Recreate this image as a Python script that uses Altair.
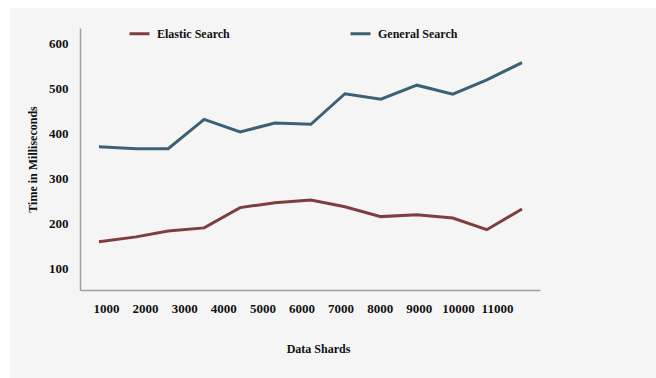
import altair as alt
import pandas as pd

shards = [820, 1770, 2590, 3510, 4430, 5320, 6240, 7110, 8030, 8950, 9870, 10740, 11640]
elastic = [160, 171, 184, 191, 236, 247, 253, 238, 216, 220, 213, 187, 233]
general = [371, 367, 367, 432, 404, 424, 421, 489, 477, 508, 488, 520, 558]
series_names = ["Elastic Search", "General Search"]
series_colors = ["#7e3e3e", "#3a6175"]
x_ticks = [1000, 2000, 3000, 4000, 5000, 6000, 7000, 8000, 9000, 10000, 11000]
y_ticks = [100, 200, 300, 400, 500, 600]

rows = []
for s, e, g in zip(shards, elastic, general):
    rows.append({"shards": s, "time": e, "series": series_names[0]})
    rows.append({"shards": s, "time": g, "series": series_names[1]})
df = pd.DataFrame(rows)

FONT = "Liberation Serif"

panel = alt.Chart(pd.DataFrame({"a": [0]})).mark_rect(color="#f5f5f5").encode(
    x=alt.value(-70), x2=alt.value(576), y=alt.value(-20), y2=alt.value(350)
)

lines = alt.Chart(df).mark_line(strokeWidth=3).encode(
    x=alt.X("shards:Q",
            scale=alt.Scale(domain=[335, 12100], nice=False, zero=False),
            axis=alt.Axis(values=x_ticks, format="d", title="Data Shards", grid=False, ticks=False,
                          domainColor="#a0a0a0", domainWidth=1.5, zindex=1,
                          labelFont=FONT, labelFontWeight="bold", labelFontSize=13,
                          labelColor="#111", labelPadding=12, labelFlush=False,
                          titleFont=FONT, titleFontWeight="bold", titleFontSize=12,
                          titleColor="#111", titleX=238, titleY=58, titleBaseline="middle")),
    y=alt.Y("time:Q",
            scale=alt.Scale(domain=[53, 635], nice=False, zero=False),
            axis=alt.Axis(values=y_ticks, format="d", title="Time in Milliseconds", grid=False, ticks=False,
                          domainColor="#a0a0a0", domainWidth=1.5, zindex=1,
                          labelFont=FONT, labelFontWeight="bold", labelFontSize=13,
                          labelColor="#111", labelPadding=12,
                          titleFont=FONT, titleFontWeight="bold", titleFontSize=12,
                          titleColor="#111", titleX=-48, titleY=131, titleBaseline="middle")),
    color=alt.Color("series:N",
                    scale=alt.Scale(domain=series_names, range=series_colors),
                    legend=alt.Legend(title=None, orient="none", legendX=48, legendY=-6,
                                      direction="horizontal", columnPadding=114,
                                      symbolType="stroke", symbolSize=400, symbolStrokeWidth=3,
                                      labelFont=FONT, labelFontWeight="bold", labelFontSize=12,
                                      labelColor="#111", labelOffset=6)),
)

chart = alt.layer(panel, lines).properties(
    width=460, height=262,
    autosize=alt.AutoSizeParams(type="none"),
    padding={"left": 80, "top": 28, "right": 116, "bottom": 88},
    background="white",
).configure_view(stroke=None)

chart.save("out.html", embed_options={"renderer": "svg", "actions": False})
